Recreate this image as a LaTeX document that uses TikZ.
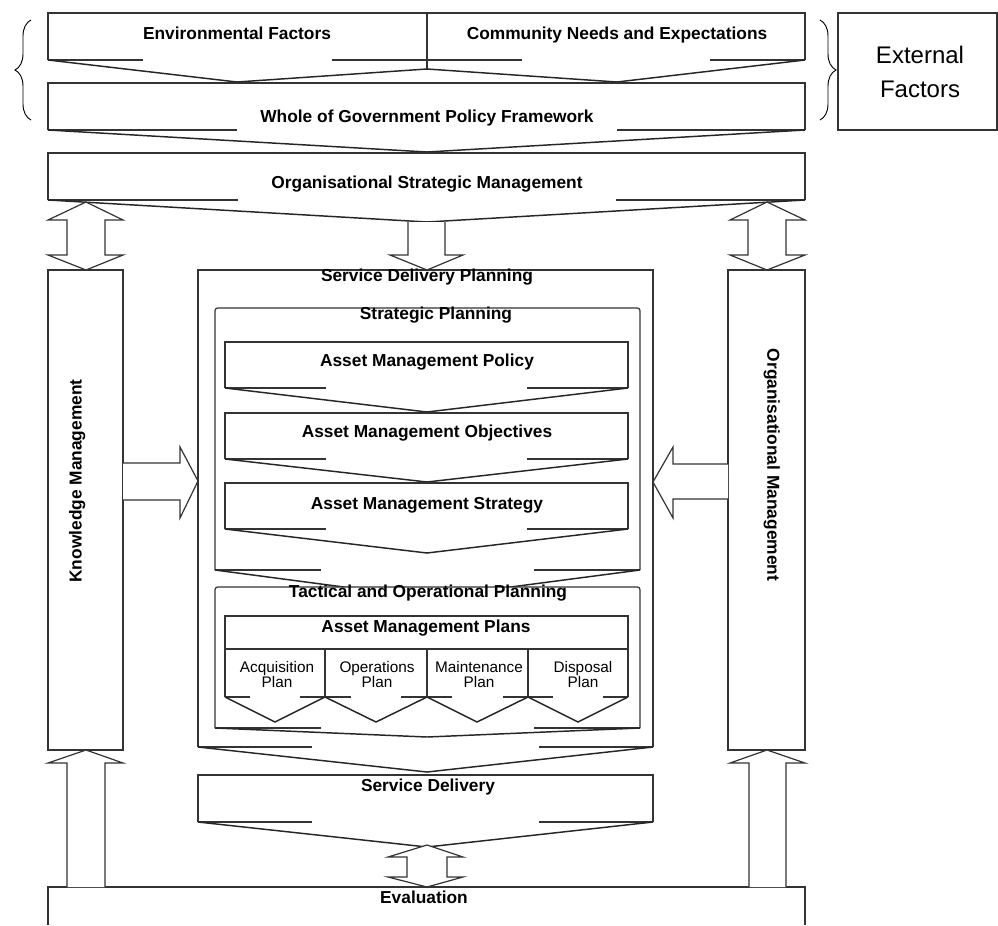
\documentclass[tikz,border=0pt]{standalone}
\usepackage{fontspec}
\setsansfont{Liberation Sans}
\usetikzlibrary{decorations.pathreplacing}
\tikzset{
  blockfill/.style={draw=black!80, fill=white, line width=0.9pt, line join=miter},
  shoulder/.style={draw=black!80, line width=0.9pt},
  chevron/.style={draw=black!85, line width=1.1pt, line join=miter},
  fatarrow/.style={draw=black!80, fill=white, line width=0.9pt, line join=miter},
  headlabel/.style={font=\sffamily\bfseries\fontsize{13}{15}\selectfont, inner sep=0pt, text height=9.5pt, text depth=2.5pt},
  planlabel/.style={font=\sffamily\fontsize{11.5}{11.25}\selectfont, align=center, inner sep=0pt},
  extlabel/.style={font=\sffamily\fontsize{18}{26}\selectfont, align=center, inner sep=0pt},
  bracket/.style={draw=black, line width=0.7pt, decorate, decoration={brace, amplitude=12pt}},
}
\begin{document}
\begin{tikzpicture}[x=0.75pt, y=-0.75pt]
\useasboundingbox (0,0) rectangle (998,925);
\draw[blockfill] (838,13) rectangle (997,130);
\draw[bracket] (31,120) -- (31,20);
\draw[bracket] (820,20) -- (820,120);
\draw[blockfill] (48,60) -- (48,13) -- (427,13) -- (427,69);
\draw[shoulder] (48,60) -- (143,60) (332,60) -- (427,60);
\draw[chevron] (48,60) -- (237,82) -- (427,69);
\draw[blockfill] (427,69) -- (427,13) -- (805,13) -- (805,60);
\draw[shoulder] (427,60) -- (522,60) (710,60) -- (805,60);
\draw[chevron] (427,69) -- (617,82) -- (805,60);
\draw[blockfill] (48,130) -- (48,83) -- (805,83) -- (805,130);
\draw[shoulder] (48,130) -- (237,130) (617,130) -- (805,130);
\draw[chevron] (48,130) -- (427,152) -- (805,130);
\draw[blockfill] (48,200) -- (48,153) -- (805,153) -- (805,200);
\draw[shoulder] (48,200) -- (238,200) (616,200) -- (805,200);
\draw[chevron] (48,200) -- (427,222) -- (805,200);
\draw[fatarrow] (86,202) -- (123,220) -- (105,220) -- (105,255) -- (123,255) -- (86,270) -- (48,255) -- (67,255) -- (67,220) -- (48,220) -- cycle;
\draw[fatarrow] (767,202) -- (805,220) -- (786,220) -- (786,255) -- (805,255) -- (767,270) -- (730,255) -- (748,255) -- (748,220) -- (730,220) -- cycle;
\draw[fatarrow] (408,222) -- (408,255) -- (390,255) -- (427,270) -- (463,255) -- (445,255) -- (445,222);
\draw[blockfill] (48,270) rectangle (123,750);
\draw[blockfill] (728,270) rectangle (805,750);
\draw[blockfill] (198,747) -- (198,270) -- (653,270) -- (653,747);
\draw[shoulder] (198,747) -- (312,747) (539,747) -- (653,747);
\draw[chevron] (198,747) -- (427,772) -- (653,747);
\draw[blockfill, rounded corners=2pt] (215,570) -- (215,308) -- (640,308) -- (640,570);
\draw[shoulder] (215,570) -- (321,570) (534,570) -- (640,570);
\draw[chevron] (215,570) -- (427,598) -- (640,570);
\draw[blockfill] (225,388) -- (225,342) -- (628,342) -- (628,388);
\draw[shoulder] (225,388) -- (326,388) (527,388) -- (628,388);
\draw[chevron] (225,388) -- (427,412) -- (628,388);
\draw[blockfill] (225,459) -- (225,413) -- (628,413) -- (628,459);
\draw[shoulder] (225,459) -- (326,459) (527,459) -- (628,459);
\draw[chevron] (225,459) -- (427,482) -- (628,459);
\draw[blockfill] (225,529) -- (225,483) -- (628,483) -- (628,529);
\draw[shoulder] (225,529) -- (326,529) (527,529) -- (628,529);
\draw[chevron] (225,529) -- (427,553) -- (628,529);
\draw[blockfill, rounded corners=2pt] (215,728) -- (215,587) -- (640,587) -- (640,728);
\draw[shoulder] (215,728) -- (321,728) (534,728) -- (640,728);
\draw[chevron] (215,728) -- (427,737) -- (640,728);
\draw[blockfill] (225,616) rectangle (628,649);
\draw[blockfill] (225,697) -- (225,649) -- (628,649) -- (628,697);
\draw[shoulder] (325,649) -- (325,697) (427,649) -- (427,697) (528,649) -- (528,697);
\draw[shoulder] (225,697) -- (250,697) (300,697) -- (351,697) (401,697) -- (452,697) (503,697) -- (553,697) (603,697) -- (628,697);
\draw[chevron] (225,697) -- (275,722) -- (325,697) -- (376,722) -- (427,697) -- (477,722) -- (528,697) -- (578,722) -- (628,697);
\draw[blockfill] (198,822) -- (198,775) -- (653,775) -- (653,822);
\draw[shoulder] (198,822) -- (312,822) (539,822) -- (653,822);
\draw[chevron] (198,822) -- (427,847) -- (653,822);
\draw[fatarrow] (427,845) -- (463,857) -- (447,857) -- (447,877) -- (463,877) -- (427,887) -- (388,877) -- (407,877) -- (407,857) -- (388,857) -- cycle;
\draw[blockfill] (48,925) -- (48,887) -- (805,887) -- (805,925);
\draw[fatarrow] (67,887) -- (67,763) -- (48,763) -- (86,750) -- (123,763) -- (105,763) -- (105,887);
\draw[fatarrow] (749,887) -- (749,763) -- (730,763) -- (767,750) -- (805,763) -- (786,763) -- (786,887);
\draw[fatarrow] (123,463) -- (180,463) -- (180,447) -- (198,481) -- (180,518) -- (180,500) -- (123,500);
\draw[fatarrow] (728,464) -- (673,464) -- (673,447) -- (653,482) -- (673,518) -- (673,499) -- (728,499);
\node[headlabel] (envfactors) at (237,35) {Environmental Factors};
\node[headlabel] (commneeds) at (617,35) {Community Needs and Expectations};
\node[headlabel] (govpolicy) at (427,118) {Whole of Government Policy Framework};
\node[headlabel] (orgstrat) at (427,184) {Organisational Strategic Management};
\node[headlabel] (sdplanning) at (427,277) {Service Delivery Planning};
\node[headlabel] (stratplanning) at (436,315) {Strategic Planning};
\node[headlabel] (ampolicy) at (427,362) {Asset Management Policy};
\node[headlabel] (amobjectives) at (427,433) {Asset Management Objectives};
\node[headlabel] (amstrategy) at (427,505) {Asset Management Strategy};
\node[headlabel] (tacplanning) at (428,593) {Tactical and Operational Planning};
\node[headlabel] (amplans) at (426,628) {Asset Management Plans};
\node[planlabel] (acqplan) at (277,675) {Acquisition\\Plan};
\node[planlabel] (opsplan) at (377,675) {Operations\\Plan};
\node[planlabel] (maintplan) at (479,675) {Maintenance\\Plan};
\node[planlabel] (dispplan) at (583,675) {Disposal\\Plan};
\node[headlabel] (servdelivery) at (428,787) {Service Delivery};
\node[headlabel] (evaluation) at (424,899) {Evaluation};
\node[headlabel, rotate=90] (knowmgmt) at (77,481) {Knowledge Management};
\node[headlabel, rotate=-90] (orgmgmt) at (772,465) {Organisational Management};
\node[extlabel] (extfactors) at (920,72) {External\\Factors};
\end{tikzpicture}
\end{document}
